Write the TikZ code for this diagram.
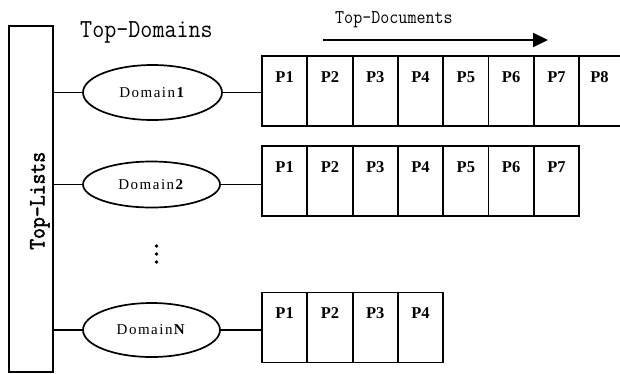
\documentclass[tikz,border=0pt]{standalone}
\usepackage{fontspec}
\setmainfont{Liberation Serif}
\newfontfamily\monofont[FakeStretch=0.9]{Latin Modern Mono}
\newfontfamily\listfont[FakeStretch=0.9,FakeBold=2]{Latin Modern Mono}
\newfontfamily\domfont[LetterSpace=10]{Liberation Serif}
\usetikzlibrary{shapes.geometric,arrows.meta}

\begin{document}
\begin{tikzpicture}[x=1pt,y=-1pt,
  cellline/.style={line width=1.8pt},
  cell/.style={draw, cellline, minimum width=45.3pt, minimum height=70pt,
    inner sep=0pt, outer sep=0pt},
  plabel/.style={font=\fontsize{16.5}{16.5}\selectfont\bfseries,
    anchor=center, yshift=-21pt, inner sep=0pt},
  domnode/.style={draw, ellipse, line width=1.7pt, inner sep=0pt,
    font=\domfont\fontsize{15}{15}\selectfont},
  link/.style={line width=1.7pt},
  title/.style={anchor=base west, inner sep=0pt}]
\useasboundingbox (0,0) rectangle (620,373);

% vertical list bar
\node[draw, cellline, minimum width=44pt, minimum height=346pt, inner sep=0pt]
  (lists) at (31,199) {};
\node[title, rotate=90, font=\listfont\fontsize{23.5}{23.5}\selectfont]
  (listsT) at (44.5,250) {Top-Lists};

% headings
\node[title, font=\monofont\fontsize{26}{26}\selectfont] (tdom) at (80,37) {Top-Domains};
\node[title, font=\monofont\fontsize{19.5}{19.5}\selectfont] (tdoc) at (335,23) {Top-Documents};
\coordinate (arrS) at (323,40);
\coordinate (arrE) at (548,40);
\draw[line width=2pt, -{Triangle[length=15pt,width=14pt]}] (arrS) -- (arrE);

% domains
\node[domnode, minimum width=139pt, minimum height=55pt] (d1) at (152.5,92.5) {Domain\textbf{1}};
\node[domnode, minimum width=137pt, minimum height=46pt] (d2) at (151.5,184.5) {Domain\textbf{2}};
\node[domnode, minimum width=137pt, minimum height=54pt] (dN) at (151.5,330) {Domain\textbf{N}};

% document rows
\foreach \i in {1,...,7}
  \node[cell, label={[plabel]north:P\i}] (r1c\i) at ({262+45.3*(\i-0.5)},91) {};
\node[minimum width=41pt, minimum height=70pt, inner sep=0pt, outer sep=0pt,
  label={[plabel]north:P8}] (r1c8) at (599.5,91) {};
\draw[cellline] (r1c8.north west) -- (r1c8.north east);
\draw[cellline] (r1c8.south west) -- (r1c8.south east);

\foreach \i in {1,...,7}
  \node[cell, label={[plabel]north:P\i}] (r2c\i) at ({262+45.3*(\i-0.5)},181) {};

\foreach \i in {1,...,4}
  \node[cell, label={[plabel]north:P\i}] (rNc\i) at ({262+45.3*(\i-0.5)},327.5) {};

% connectors
\draw[link] (lists.east |- d1.west) -- (d1.west);
\draw[link] (d1.east) -- (d1.east -| r1c1.west);
\draw[link] (lists.east |- d2.west) -- (d2.west);
\draw[link] (d2.east) -- (d2.east -| r2c1.west);
\draw[link] (lists.east |- dN.west) -- (dN.west);
\draw[link] (dN.east) -- (dN.east -| rNc1.west);

% vertical ellipsis
\foreach \y in {246,254,262}
  \fill (156.5,\y) circle (1.8pt);
\end{tikzpicture}
\end{document}
